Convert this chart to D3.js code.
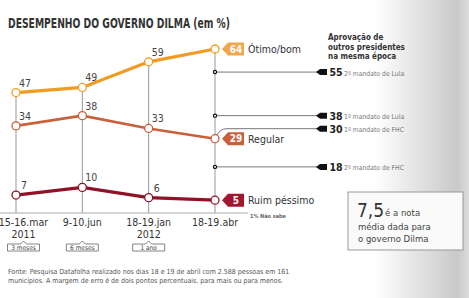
<!DOCTYPE html>
<html>
<head>
<meta charset="utf-8">
<title>Desempenho do governo Dilma</title>
<script src="https://d3js.org/d3.v7.min.js"></script>
<style>
  body { margin: 0; padding: 0; background: #fff; }
  svg text { font-family: "Liberation Sans Narrow", "DejaVu Sans Condensed", sans-serif; }
</style>
</head>
<body>
<div id="chart"></div>
<script>
// data
var dates = ["15-16.mar", "9-10.jun", "18-19.jan", "18-19.abr"];
var years = ["2011", "", "2012", ""];
var gaps = ["3 meses", "6 meses", "1 ano"];
var otimo = [47, 49, 59, 64];
var regular = [34, 38, 33, 29];
var ruim = [7, 10, 6, 5];
var outrosValores = [55, 38, 30, 18];
var outrosNomes = ["2º mandato de Lula", "1º mandato de Lula", "1º mandato de FHC", "2º mandato de FHC"];

var width = 469, height = 298;

var svg = d3.select("#chart").append("svg")
    .attr("width", width)
    .attr("height", height);

// grey fade on the right side
var grad = svg.append("defs").append("linearGradient")
    .attr("id", "bg").attr("x1", 0).attr("x2", 1).attr("y1", 0).attr("y2", 0);
grad.append("stop").attr("offset", "0.80").attr("stop-color", "#ffffff");
grad.append("stop").attr("offset", "0.975").attr("stop-color", "#c9c9c9");
grad.append("stop").attr("offset", "1").attr("stop-color", "#dcdcdc");
svg.append("rect").attr("width", width).attr("height", height).attr("fill", "url(#bg)");

var x = d3.scalePoint().domain(dates).range([16, 215]);
var y = d3.scaleLinear().domain([0, 64]).range([213, 49]);
var last = dates[dates.length - 1];

// title
svg.append("text")
    .attr("x", 8).attr("y", 28)
    .attr("textLength", 222).attr("lengthAdjust", "spacingAndGlyphs")
    .style("font-size", "13.5px").style("font-weight", "bold").style("fill", "#333")
    .text("DESEMPENHO DO GOVERNO DILMA (em %)");

// vertical guide lines
svg.selectAll(".guide")
    .data(dates)
    .enter().append("line")
    .attr("x1", function(d) { return x(d); })
    .attr("x2", function(d) { return x(d); })
    .attr("y1", function(d, i) { return y(otimo[i]); })
    .attr("y2", y(0))
    .attr("stroke", "#999").attr("stroke-width", 1);

// baseline
svg.append("line")
    .attr("x1", 0).attr("x2", 248)
    .attr("y1", y(0)).attr("y2", y(0))
    .attr("stroke", "#aaa").attr("stroke-width", 1.2);

// other presidents reference lines
svg.append("g").attr("transform", "translate(328,0)")
    .selectAll("text")
    .data(["Aprovação de", "outros presidentes", "na mesma época"])
    .enter().append("text")
    .attr("y", function(d, i) { return 40 + i * 9.5; })
    .style("font-size", "8px").style("font-weight", "bold").style("fill", "#333")
    .text(function(d) { return d; });

var tagY = y(regular[regular.length - 1]);
var refs = outrosValores.map(function(v, i) {
    var ly = y(v);
    if (Math.abs(ly - tagY) < 9) ly = tagY - 10;
    return { v: v, name: outrosNomes[i], y0: y(v), ly: ly };
});

var ref = svg.selectAll(".ref").data(refs).enter().append("g");
ref.append("path")
    .attr("d", function(d) {
        var x0 = x(last);
        if (d.ly === d.y0) return "M" + x0 + "," + d.y0 + "H318";
        return "M" + (x0 + 2) + "," + (d.y0 - 1) + "Q" + (x0 + 5) + "," + d.ly + " " + (x0 + 12) + "," + d.ly + "H318";
    })
    .attr("fill", "none").attr("stroke", "#777").attr("stroke-width", 1);
ref.filter(function(d) { return d.ly === d.y0; }).append("circle")
    .attr("cx", x(last)).attr("cy", function(d) { return d.y0; })
    .attr("r", 1.6).attr("fill", "#fff").attr("stroke", "#111").attr("stroke-width", 1.2);
ref.append("path")
    .attr("d", function(d) {
        var t = d.ly;
        return "M316," + t + "L320," + (t - 3) + "H327V" + (t + 3) + "H320Z";
    })
    .attr("fill", "#111");
ref.append("text")
    .attr("x", 329.5).attr("y", function(d) { return d.ly + 4; })
    .style("font-size", "10.5px").style("font-weight", "bold").style("fill", "#222")
    .text(function(d) { return d.v; });
ref.append("text")
    .attr("x", 344).attr("y", function(d) { return d.ly + 3.5; })
    .style("font-size", "6.8px").style("fill", "#777")
    .text(function(d) { return d.name; });

// series
var series = [
    { name: "Ótimo/bom", values: otimo, color: "#f29b23", tag: "#f2a648", w: 3.2 },
    { name: "Regular", values: regular, color: "#c8613a", tag: "#c8613a", w: 2.6 },
    { name: "Ruim péssimo", values: ruim, color: "#8f1226", tag: "#a3162f", w: 3.2 }
];

var line = d3.line()
    .x(function(d, i) { return x(dates[i]); })
    .y(function(d) { return y(d); });

var sg = svg.selectAll(".series").data(series).enter().append("g");

sg.append("path")
    .attr("d", function(s) { return line(s.values); })
    .attr("fill", "none")
    .attr("stroke", function(s) { return s.color; })
    .attr("stroke-width", function(s) { return s.w; });

sg.selectAll("circle")
    .data(function(s) { return s.values.map(function(v, i) { return { v: v, i: i, s: s }; }); })
    .enter().append("circle")
    .attr("cx", function(d) { return x(dates[d.i]); })
    .attr("cy", function(d) { return y(d.v); })
    .attr("r", 4)
    .attr("fill", "#fff")
    .attr("stroke", function(d) { return d.s.color; })
    .attr("stroke-width", 1.3);

// value labels above the points (not the last one, it gets a tag)
sg.selectAll(".val")
    .data(function(s) { return s.values.slice(0, -1).map(function(v, i) { return { v: v, i: i }; }); })
    .enter().append("text")
    .attr("x", function(d) { return x(dates[d.i]) + (d.v < 10 ? 5 : 3); })
    .attr("y", function(d) { return y(d.v) - 6; })
    .style("font-size", "10.5px").style("fill", "#444")
    .text(function(d) { return d.v; });

// end tags
var tx = x(last) + 7;
sg.append("path")
    .attr("d", function(s) {
        var t = y(s.values[s.values.length - 1]);
        return "M" + tx + "," + t + "L" + (tx + 6) + "," + (t - 6.5) + "H" + (tx + 22) + "V" + (t + 6.5) + "H" + (tx + 6) + "Z";
    })
    .attr("fill", function(s) { return s.tag; });
sg.append("text")
    .attr("x", tx + 14)
    .attr("y", function(s) { return y(s.values[s.values.length - 1]) + 3.8; })
    .attr("text-anchor", "middle")
    .style("font-size", "10px").style("font-weight", "bold").style("fill", "#fff")
    .text(function(s) { return s.values[s.values.length - 1]; });
sg.append("text")
    .attr("x", tx + 26)
    .attr("y", function(s) { return y(s.values[s.values.length - 1]) + 4; })
    .style("font-size", "10.5px").style("fill", "#333")
    .text(function(s) { return s.name; });

svg.append("text")
    .attr("x", 250).attr("y", 218)
    .style("font-size", "5.5px").style("font-weight", "bold").style("fill", "#666")
    .text("1% Não sabe");

// x axis labels
var lx = function(d, i) { return i === 0 ? x(d) + 7.5 : x(d); };
svg.selectAll(".date")
    .data(dates)
    .enter().append("text")
    .attr("x", lx).attr("y", 226)
    .attr("text-anchor", "middle")
    .style("font-size", "10.5px").style("fill", "#333")
    .text(function(d) { return d; });
svg.selectAll(".year")
    .data(years)
    .enter().append("text")
    .attr("x", function(d, i) { return lx(dates[i], i); }).attr("y", 238)
    .attr("text-anchor", "middle")
    .style("font-size", "10.5px").style("fill", "#333")
    .text(function(d) { return d; });

// interval brackets
var br = svg.selectAll(".gap").data(gaps).enter().append("g")
    .attr("transform", function(d, i) { return "translate(" + lx(dates[i], i) + ",0)"; });
br.append("path")
    .attr("d", "M-16,244V251H16V244H3L0,241L-3,244Z")
    .attr("fill", "none").attr("stroke", "#666").attr("stroke-width", 0.8);
br.append("text")
    .attr("y", 249.5).attr("text-anchor", "middle")
    .style("font-size", "6.5px").style("fill", "#444")
    .text(function(d) { return d; });

// note box
var box = svg.append("g").attr("transform", "translate(348,192)");
box.append("rect")
    .attr("width", 115).attr("height", 58)
    .attr("fill", "#fafafa").attr("stroke", "#999").attr("stroke-width", 1);
box.append("text").attr("x", 9).attr("y", 25)
    .style("font-size", "19px").style("fill", "#333").text("7,5");
box.append("text").attr("x", 37).attr("y", 24)
    .style("font-size", "9.5px").style("fill", "#444").text("é a nota");
box.append("text").attr("x", 10).attr("y", 38)
    .style("font-size", "9.5px").style("fill", "#444").text("média dada para");
box.append("text").attr("x", 10).attr("y", 50)
    .style("font-size", "9.5px").style("fill", "#444").text("o governo Dilma");

// source
svg.append("g").attr("transform", "translate(8,0)")
    .selectAll("text")
    .data(["Fonte: Pesquisa Datafolha realizado nos dias 18 e 19 de abril com 2.588 pessoas em 161",
           "municípios. A margem de erro é de dois pontos percentuais, para mais ou para menos."])
    .enter().append("text")
    .attr("y", function(d, i) { return 274 + i * 9; })
    .style("font-size", "7px").style("fill", "#555")
    .text(function(d) { return d; });
</script>
</body>
</html>
